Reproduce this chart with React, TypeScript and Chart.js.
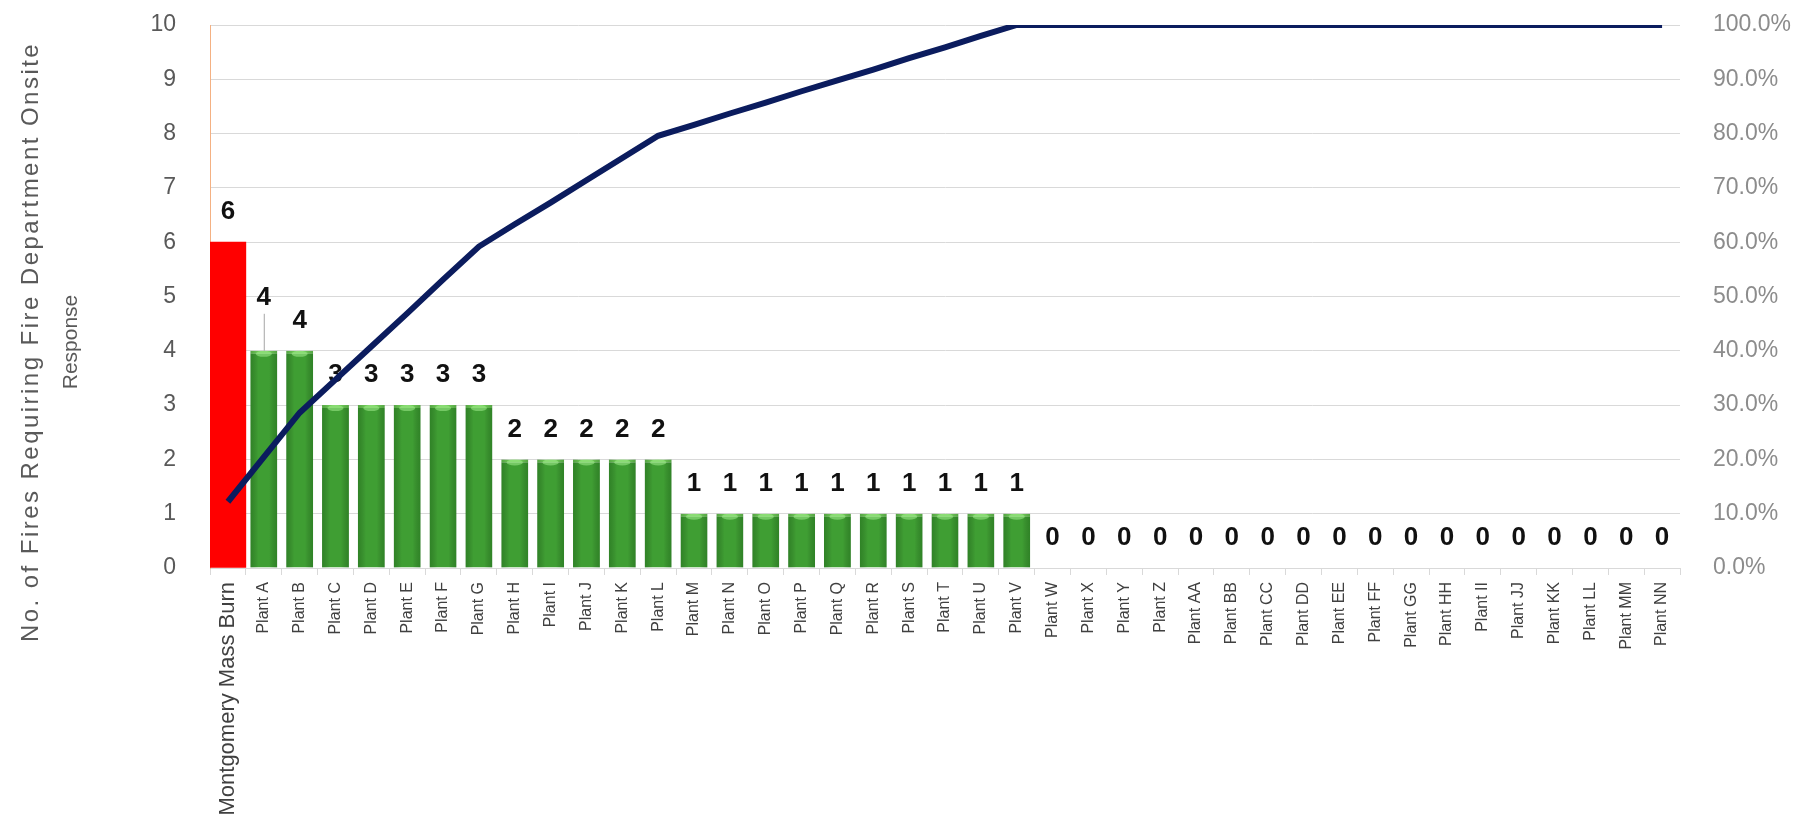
import { useEffect, useRef } from 'react';
import { Chart, registerables } from 'chart.js';

Chart.register(...registerables);

const categories = [
  'Montgomery Mass Burn',
  'Plant A', 'Plant B', 'Plant C', 'Plant D', 'Plant E', 'Plant F', 'Plant G',
  'Plant H', 'Plant I', 'Plant J', 'Plant K', 'Plant L', 'Plant M', 'Plant N',
  'Plant O', 'Plant P', 'Plant Q', 'Plant R', 'Plant S', 'Plant T', 'Plant U',
  'Plant V', 'Plant W', 'Plant X', 'Plant Y', 'Plant Z', 'Plant AA', 'Plant BB',
  'Plant CC', 'Plant DD', 'Plant EE', 'Plant FF', 'Plant GG', 'Plant HH',
  'Plant II', 'Plant JJ', 'Plant KK', 'Plant LL', 'Plant MM', 'Plant NN',
];

const fireCounts = [
  6,
  4, 4, 3, 3, 3, 3, 3,
  2, 2, 2, 2, 2, 1, 1,
  1, 1, 1, 1, 1, 1, 1,
  1, 0, 0, 0, 0, 0, 0,
  0, 0, 0, 0, 0, 0,
  0, 0, 0, 0, 0, 0,
];

const cumulativePercent = [
  12.2,
  20.4, 28.6, 34.7, 40.8, 46.9, 53.1, 59.2,
  63.3, 67.3, 71.4, 75.5, 79.6, 81.6, 83.7,
  85.7, 87.8, 89.8, 91.8, 93.9, 95.9, 98.0,
  100, 100, 100, 100, 100, 100, 100,
  100, 100, 100, 100, 100, 100,
  100, 100, 100, 100, 100, 100,
];

const highlightIndex = 0;
const raisedLabelIndex = 1;
const yTitleLines = ['No. of Fires Requiring Fire Department Onsite', 'Response'];

export default function App() {
  const ref = useRef<HTMLCanvasElement>(null);

  useEffect(() => {
    const canvas = ref.current!;
    const redData = fireCounts.map((v, i) => (i === highlightIndex ? v : null));
    const greenData = fireCounts.map((v, i) => (i === highlightIndex ? null : v));

    const labelPlugin = {
      id: 'barLabels',
      afterDatasetDraw(chart: any, args: any) {
        if (args.index !== 1) return;
        const ctx = chart.ctx;
        const xs = chart.scales.x;
        const ys = chart.scales.y;
        ctx.save();
        // subtle cylinder shading on green bars
        const meta = chart.getDatasetMeta(1);
        meta.data.forEach((el: any, i: number) => {
          if (greenData[i] == null || !greenData[i]) return;
          const p = el.getProps(['x', 'y', 'base', 'width'], true);
          const l = p.x - p.width / 2;
          const g = ctx.createLinearGradient(l, 0, l + p.width, 0);
          g.addColorStop(0, 'rgba(0,50,0,0.25)');
          g.addColorStop(0.3, 'rgba(0,0,0,0)');
          g.addColorStop(0.7, 'rgba(0,0,0,0)');
          g.addColorStop(1, 'rgba(0,50,0,0.25)');
          ctx.fillStyle = g;
          ctx.fillRect(l, p.y, p.width, p.base - p.y);
          ctx.fillStyle = 'rgba(160,235,140,0.55)';
          ctx.beginPath();
          ctx.ellipse(p.x, p.y + 3, p.width * 0.3, 3, 0, 0, Math.PI * 2);
          ctx.fill();
        });

        ctx.font = 'bold 26px "Liberation Sans", Arial, sans-serif';
        ctx.fillStyle = '#111111';
        ctx.textAlign = 'center';
        ctx.textBaseline = 'middle';
        fireCounts.forEach((v, i) => {
          const px = xs.getPixelForValue(i);
          const top = ys.getPixelForValue(v);
          let ly = top - 30;
          if (i === raisedLabelIndex) {
            ly = top - 53;
            ctx.strokeStyle = '#a6a6a6';
            ctx.lineWidth = 1;
            ctx.beginPath();
            ctx.moveTo(px + 0.5, top);
            ctx.lineTo(px + 0.5, ly + 16);
            ctx.stroke();
          }
          ctx.fillText(String(v), px, ly);
        });
        ctx.restore();
      },
    };

    const titlePlugin = {
      id: 'yTitle',
      afterDraw(chart: any) {
        const ctx = chart.ctx;
        ctx.save();
        ctx.fillStyle = '#595959';
        ctx.textAlign = 'center';
        ctx.textBaseline = 'middle';
        const xPos = [31, 71];
        const sizes = [24, 21];
        const targetLen = [600, 0];
        yTitleLines.forEach((line, k) => {
          ctx.save();
          ctx.font = sizes[k] + 'px "Liberation Sans", Arial, sans-serif';
          const w = ctx.measureText(line).width;
          (ctx as any).letterSpacing =
            targetLen[k] > w ? ((targetLen[k] - w) / line.length).toFixed(2) + 'px' : '0px';
          ctx.translate(xPos[k], 342);
          ctx.rotate(-Math.PI / 2);
          ctx.fillText(line, 0, 0);
          ctx.restore();
        });
        ctx.restore();
      },
    };

    const chart = new Chart(canvas, {
      type: 'bar',
      data: {
        labels: categories,
        datasets: [
          {
            type: 'line',
            label: 'Cumulative %',
            data: cumulativePercent,
            yAxisID: 'y1',
            borderColor: '#0b1c5e',
            borderWidth: 6,
            pointRadius: 0,
            tension: 0,
            order: 0,
          } as any,
          {
            type: 'bar',
            label: 'Fires',
            data: greenData,
            yAxisID: 'y',
            backgroundColor: '#3f9e33',
            borderColor: '#6fcb58',
            borderWidth: { top: 3, left: 0, right: 0, bottom: 0 },
            borderSkipped: false,
            barPercentage: 0.75,
            categoryPercentage: 1,
            grouped: false,
            order: 1,
          },
          {
            type: 'bar',
            label: 'Highlight',
            data: redData,
            yAxisID: 'y',
            backgroundColor: '#ff0000',
            borderWidth: 0,
            barPercentage: 1,
            categoryPercentage: 1,
            grouped: false,
            order: 2,
          },
        ],
      },
      options: {
        responsive: false,
        animation: false,
        layout: { padding: 0 },
        plugins: {
          legend: { display: false },
          tooltip: { enabled: false },
        },
        scales: {
          x: {
            grid: { drawOnChartArea: false, color: '#d9d9d9', tickLength: 7 },
            border: { color: '#d9d9d9' },
            ticks: {
              autoSkip: false,
              maxRotation: 90,
              minRotation: 90,
              padding: 7,
              color: '#404040',
              font: (c: any) => ({
                family: '"Liberation Sans", Arial, sans-serif',
                size: c.index === highlightIndex ? 22 : 16,
              }),
            },
            afterFit: (s: any) => {
              s.height = 247;
            },
          },
          y: {
            position: 'left',
            min: 0,
            max: 10,
            ticks: {
              stepSize: 1,
              padding: 34,
              color: '#595959',
              font: { family: '"Liberation Sans", Arial, sans-serif', size: 23 },
            },
            grid: { color: '#d9d9d9', drawTicks: false },
            border: { color: '#f4b183' },
            afterFit: (s: any) => {
              s.width = 210;
              s.paddingTop = 25;
              s.paddingBottom = 0;
            },
          },
          y1: {
            position: 'right',
            min: 0,
            max: 100,
            ticks: {
              stepSize: 10,
              padding: 33,
              color: '#8c8c8c',
              font: { family: '"Liberation Sans", Arial, sans-serif', size: 23 },
              callback: (v: any) => Number(v).toFixed(1) + '%',
            },
            grid: { display: false, drawTicks: false },
            border: { display: false },
            afterFit: (s: any) => {
              s.width = 138;
              s.paddingTop = 25;
              s.paddingBottom = 0;
            },
          },
        },
      },
      plugins: [labelPlugin, titlePlugin],
    });

    return () => chart.destroy();
  }, []);

  return (
    <div style={{ position: 'absolute', left: 0, top: 0, width: 1818, height: 815, background: '#ffffff' }}>
      <canvas ref={ref} width={1818} height={815} />
    </div>
  );
}
